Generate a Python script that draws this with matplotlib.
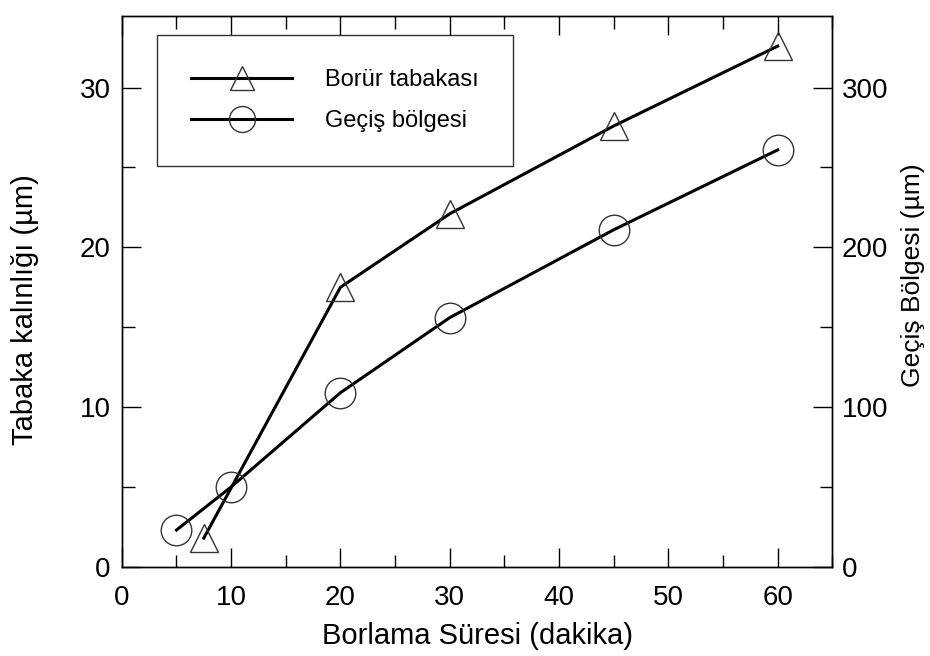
import matplotlib.pyplot as plt
from matplotlib.ticker import MultipleLocator

plt.rcParams['font.family'] = ['Liberation Sans', 'DejaVu Sans']

# Borür tabakası (left axis, um)
t_borur = [7.5, 20, 30, 45, 60]
borur = [1.8, 17.5, 22.1, 27.6, 32.6]

# Geçiş bölgesi (right axis, um)
t_gecis = [5, 10, 20, 30, 45, 60]
gecis = [23, 50, 109, 156, 211, 261]

fig = plt.figure(figsize=(9.3, 6.56), dpi=100)
ax = fig.add_axes([0.131, 0.136, 0.764, 0.840])
ax2 = ax.twinx()

l1, = ax.plot(t_borur, borur, color='black', lw=2.2, marker='^', ms=20,
              mfc='none', mec='#333333', mew=1.0, label='Borür tabakası')
l2, = ax2.plot(t_gecis, gecis, color='black', lw=2.2, marker='o', ms=22,
               mfc='none', mec='#333333', mew=1.0, label='Geçiş bölgesi')

ax.set_xlim(0, 65)
ax.set_ylim(0, 34.5)
ax2.set_ylim(0, 345)

ax.xaxis.set_major_locator(MultipleLocator(10))
ax.xaxis.set_minor_locator(MultipleLocator(5))
ax.yaxis.set_major_locator(MultipleLocator(10))
ax.yaxis.set_minor_locator(MultipleLocator(5))
ax2.yaxis.set_major_locator(MultipleLocator(100))
ax2.yaxis.set_minor_locator(MultipleLocator(50))

ax.tick_params(axis='both', which='major', direction='in', length=14, width=1,
               labelsize=20, top=True)
ax.tick_params(axis='x', which='major', pad=13)
ax.tick_params(axis='y', which='major', pad=8)
ax.tick_params(axis='both', which='minor', direction='in', length=9, width=1, top=True)
ax.tick_params(axis='y', right=False, which='both')
ax2.tick_params(axis='y', which='major', direction='in', length=14, width=1,
                labelsize=20, pad=7)
ax2.tick_params(axis='y', which='minor', direction='in', length=9, width=1)

for a in (ax, ax2):
    for s in a.spines.values():
        s.set_linewidth(1.0)

ax.set_xlabel('Borlama Süresi (dakika)', fontsize=21)
ax.xaxis.set_label_coords(0.5, -0.1)
ax.set_ylabel('Tabaka kalınlığı (µm)', fontsize=21)
ax.yaxis.set_label_coords(-0.116, 0.466)
ax2.set_ylabel('Geçiş Bölgesi (µm)', fontsize=19)
ax2.yaxis.set_label_coords(1.096, 0.53)

leg = ax.legend(handles=[l1, l2], loc='upper left', bbox_to_anchor=(0.049, 0.965),
                borderaxespad=0, fontsize=17, frameon=True, fancybox=False,
                edgecolor='black', borderpad=1.45, labelspacing=0.8,
                handlelength=4.3, handletextpad=1.4, markerscale=0.85)
leg.get_frame().set_linewidth(1.0)

plt.savefig('out.png', dpi=100)
